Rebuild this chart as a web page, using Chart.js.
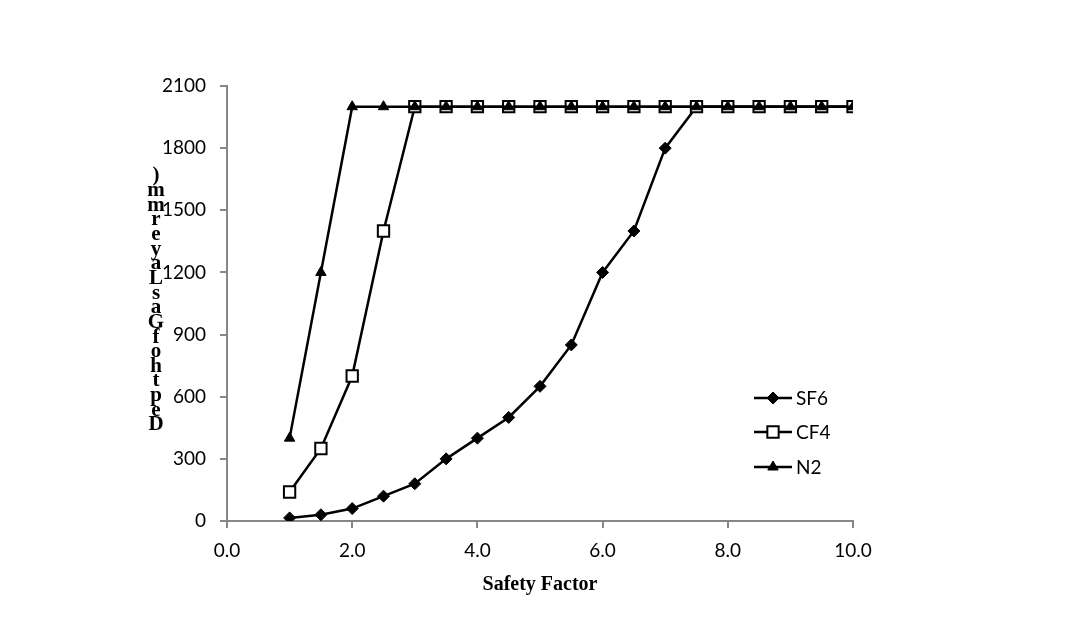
<!DOCTYPE html>
<html lang="en">
<head>
    <meta charset="UTF-8" />
    <title>Depth of Gas Layer vs Safety Factor</title>
    <script src="https://cdn.jsdelivr.net/npm/chart.js"></script>
    <style>
        html, body { margin: 0; padding: 0; background: #fff; }
        #wrap { width: 1067px; height: 626px; position: relative; }
    </style>
</head>
<body>
    <div id="wrap"><canvas id="gasChart"></canvas></div>

    <script>
        // data
        const safetyFactor = [1.0, 1.5, 2.0, 2.5, 3.0, 3.5, 4.0, 4.5, 5.0, 5.5, 6.0, 6.5, 7.0, 7.5, 8.0, 8.5, 9.0, 9.5, 10.0];
        const sf6Depth = [15, 30, 60, 120, 180, 300, 400, 500, 650, 850, 1200, 1400, 1800, 2000, 2000, 2000, 2000, 2000, 2000];
        const cf4Depth = [140, 350, 700, 1400, 2000, 2000, 2000, 2000, 2000, 2000, 2000, 2000, 2000, 2000, 2000, 2000, 2000, 2000, 2000];
        const n2Depth = [400, 1200, 2000, 2000, 2000, 2000, 2000, 2000, 2000, 2000, 2000, 2000, 2000, 2000, 2000, 2000, 2000, 2000, 2000];
        const seriesNames = ["SF6", "CF4", "N2"];
        const xTicks = [0, 2, 4, 6, 8, 10];
        const yTicks = [0, 300, 600, 900, 1200, 1500, 1800, 2100];
        // y title as it appears in the picture: letters stacked, read bottom to top
        const yTitleChars = [")", "m", "m", "r", "e", "y", "a", "L", "s", "a", "G", "f", "o", "h", "t", "p", "e", "D"];

        const toPoints = (ys) => safetyFactor.map((x, i) => ({ x: x, y: ys[i] }));

        const axisGray = "#878787";

        // stacked y axis title
        const yTitlePlugin = {
            id: "yTitle",
            afterDraw(chart) {
                const ctx = chart.ctx;
                ctx.save();
                ctx.fillStyle = "#000";
                ctx.font = "bold 21px 'Liberation Serif'";
                ctx.textAlign = "center";
                ctx.textBaseline = "middle";
                const top = 176, bottom = 425;
                const step = (bottom - top) / (yTitleChars.length - 1);
                yTitleChars.forEach((c, i) => ctx.fillText(c, 156, top + i * step));
                ctx.restore();
            }
        };

        // legend inside the plot, drawn from the datasets
        const legendPlugin = {
            id: "innerLegend",
            afterDraw(chart) {
                const ctx = chart.ctx;
                const rows = [398, 432, 467];
                ctx.save();
                chart.data.datasets.forEach((ds, i) => {
                    const y = rows[i];
                    ctx.strokeStyle = "#000";
                    ctx.lineWidth = 2.5;
                    ctx.beginPath();
                    ctx.moveTo(754, y);
                    ctx.lineTo(792, y);
                    ctx.stroke();
                    ctx.fillStyle = ds.pointBackgroundColor;
                    ctx.strokeStyle = "#000";
                    ctx.lineWidth = ds.pointBorderWidth;
                    Chart.helpers.drawPoint(ctx, {
                        pointStyle: ds.pointStyle,
                        radius: ds.pointRadius,
                        rotation: 0,
                        borderWidth: ds.pointBorderWidth
                    }, 773, y);
                    ctx.fillStyle = "#000";
                    ctx.font = "19px Lato";
                    ctx.textAlign = "left";
                    ctx.textBaseline = "middle";
                    ctx.fillText(ds.label, 796, y + 1);
                });
                ctx.restore();
            }
        };

        const ctx = document.getElementById("gasChart").getContext("2d");
        new Chart(ctx, {
            type: "line",
            data: {
                datasets: [
                    {
                        label: seriesNames[0],
                        data: toPoints(sf6Depth),
                        borderColor: "#000",
                        borderWidth: 2.5,
                        pointStyle: "rectRot",
                        pointRadius: 6,
                        pointBackgroundColor: "#000",
                        pointBorderColor: "#000",
                        pointBorderWidth: 1,
                        order: 2
                    },
                    {
                        label: seriesNames[1],
                        data: toPoints(cf4Depth),
                        borderColor: "#000",
                        borderWidth: 2.5,
                        pointStyle: "rect",
                        pointRadius: 8,
                        pointBackgroundColor: "#fff",
                        pointBorderColor: "#000",
                        pointBorderWidth: 2,
                        order: 1
                    },
                    {
                        label: seriesNames[2],
                        data: toPoints(n2Depth),
                        borderColor: "#000",
                        borderWidth: 2.5,
                        pointStyle: "triangle",
                        pointRadius: 6,
                        pointBackgroundColor: "#000",
                        pointBorderColor: "#000",
                        pointBorderWidth: 1,
                        order: 0
                    }
                ]
            },
            options: {
                responsive: true,
                maintainAspectRatio: false,
                animation: false,
                layout: { padding: { left: 0, right: 214, top: 86, bottom: 0 } },
                plugins: {
                    legend: { display: false },
                    tooltip: { enabled: false }
                },
                scales: {
                    x: {
                        type: "linear",
                        min: 0,
                        max: 10,
                        afterBuildTicks: (s) => { s.ticks = xTicks.map(v => ({ value: v })); },
                        afterFit: (s) => { s.height = 105; },
                        ticks: {
                            color: "#000",
                            font: { family: "Lato", size: 19 },
                            padding: 11,
                            maxRotation: 0,
                            callback: (v) => Number(v).toFixed(1)
                        },
                        grid: { drawOnChartArea: false, color: axisGray, lineWidth: 2, tickLength: 7 },
                        border: { color: axisGray, width: 2 },
                        title: {
                            display: true,
                            text: "Safety Factor",
                            color: "#000",
                            font: { family: "Liberation Serif", size: 20, weight: "bold" },
                            padding: { top: 0, bottom: 29 }
                        }
                    },
                    y: {
                        type: "linear",
                        min: 0,
                        max: 2100,
                        afterBuildTicks: (s) => { s.ticks = yTicks.map(v => ({ value: v })); },
                        afterFit: (s) => { s.width = 227; },
                        ticks: {
                            color: "#000",
                            font: { family: "Lato", size: 19 },
                            padding: 14,
                            callback: (v) => String(v)
                        },
                        grid: { drawOnChartArea: false, color: axisGray, lineWidth: 2, tickLength: 7 },
                        border: { color: axisGray, width: 2 }
                    }
                }
            },
            plugins: [yTitlePlugin, legendPlugin]
        });
    </script>
</body>
</html>
